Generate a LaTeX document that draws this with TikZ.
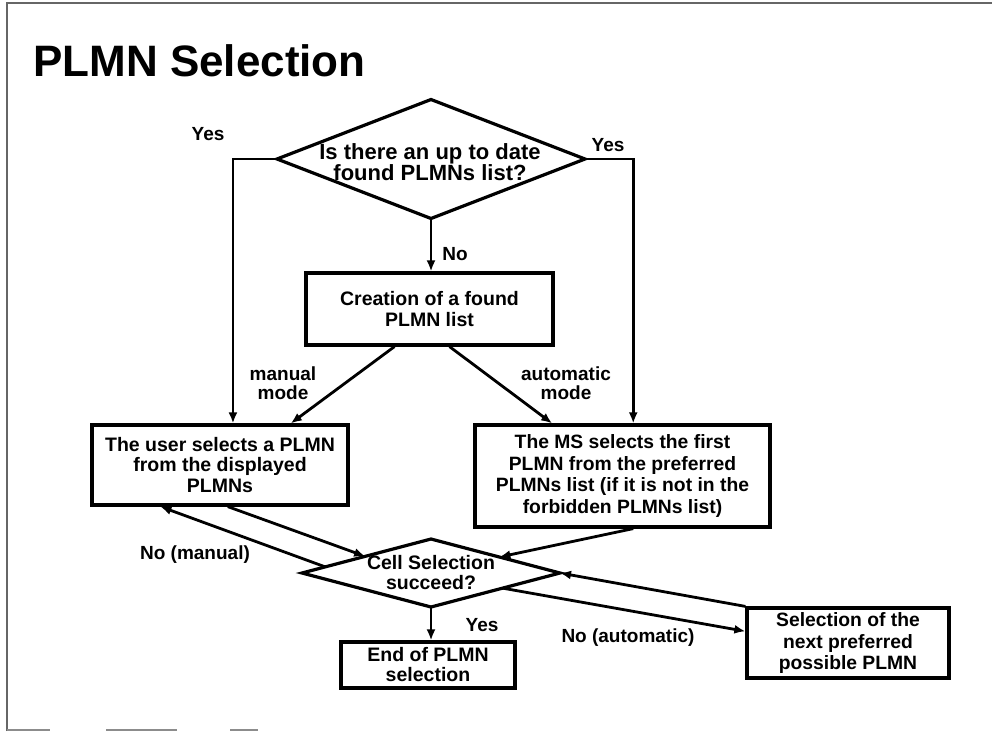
\documentclass[tikz,border=0pt]{standalone}
\usepackage{fontspec}
\setmainfont{Liberation Sans}
\usetikzlibrary{arrows.meta,shapes.geometric,calc}

\begin{document}
\begin{tikzpicture}[x=1pt,y=-1pt,
  box/.style={draw, line width=3.2pt, align=center, inner sep=0pt,
    font=\bfseries\fontsize{19.5}{20.5}\selectfont},
  decision/.style={draw, shape=diamond, line width=3.2pt, inner sep=0pt, outer sep=0pt},
  qtext/.style={align=center, inner sep=0pt, font=\bfseries\fontsize{19.5}{20}\selectfont},
  lbl/.style={align=center, inner sep=0pt, font=\bfseries\fontsize{19}{19.5}\selectfont},
  flow/.style={line width=2.8pt, -{Latex[length=11pt,width=9pt]}},
  frame/.style={draw=black!60, line width=1.8pt}
]
\useasboundingbox (0,0) rectangle (992,731);
\fill[white] (0,0) rectangle (992,731);

% page frame
\draw[frame] (7,731) -- (7,3) -- (992,3);
\draw[frame, draw=black!45, line width=1.5pt] (7,730) -- (50,730) (106,730) -- (177,730) (230,730) -- (258,730);

% title
\node[anchor=base west, inner sep=0pt, font=\bfseries\fontsize{44}{48}\selectfont] (title) at (33,76) {PLMN Selection};

% decisions
\node[decision, minimum width=308pt, minimum height=119pt] (q1) at (431,159) {};
\node[qtext, font=\bfseries\fontsize{22}{20}\selectfont] (q1t) at (430,162) {Is there an up to date\\found PLMNs list?};

\node[decision, minimum width=258pt, minimum height=68pt] (cell) at (431,573) {};
\node[qtext] (cellt) at (431,573) {Cell Selection\\succeed?};

% process boxes
\node[box, minimum width=247pt, minimum height=72pt] (found) at (429.5,309) {Creation of a found\\PLMN list};
\node[box, minimum width=256pt, minimum height=80pt] (user) at (220,465) {The user selects a PLMN\\from the displayed\\PLMNs};
\node[box, minimum width=295pt, minimum height=102pt, font=\bfseries\fontsize{19.3}{21.5}\selectfont] (ms) at (622.5,476) {The MS selects the first\\PLMN from the preferred\\PLMNs list (if it is not in the\\forbidden PLMNs list)};
\node[box, minimum width=174pt, minimum height=46pt, font=\bfseries\fontsize{19.5}{20}\selectfont] (endbox) at (428,665) {End of PLMN\\selection};
\node[box, minimum width=202pt, minimum height=70pt, font=\bfseries\fontsize{19.3}{21.5}\selectfont] (next) at (848,643) {Selection of the\\next preferred\\possible PLMN};

% connectors
\draw[flow] (q1.south) -- (q1.south |- found.north);
\draw[flow] (q1.west) -| ($(user.north west)!0.55!(user.north east)$);
\draw[flow] (q1.east) -| ($(ms.north west)!0.536!(ms.north east)$);
\draw[flow] ($(found.south west)!0.36!(found.south east)$) -- ($(user.north west)!0.773!(user.north east)$);
\draw[flow] ($(found.south west)!0.58!(found.south east)$) -- ($(ms.north west)!0.264!(ms.north east)$);
\draw[flow] ($(user.south west)!0.53!(user.south east)$) -- ($(cell.west)!0.49!(cell.north)$);
\draw[flow] ($(cell.west)!0.18!(cell.north)$) -- ($(user.south west)!0.27!(user.south east)$);
\draw[flow] ($(ms.south west)!0.536!(ms.south east)$) -- ($(cell.north)!0.53!(cell.east)$);
\draw[flow] ($(cell.east)!0.445!(cell.south)$) -- ($(next.north west)!0.34!(next.south west)$);
\draw[flow] (next.north west) -- (cell.east);
\draw[flow] (cell.south) -- (cell.south |- endbox.north);

% branch labels
\node[lbl] (yesl) at (208,134) {Yes};
\node[lbl] (yesr) at (608,145) {Yes};
\node[lbl] (no1) at (455,254) {No};
\node[lbl] (manual) at (283,383) {manual\\mode};
\node[lbl] (auto) at (566,383) {automatic\\mode};
\node[lbl] (nomanual) at (195,555) {No (manual)};
\node[lbl] (yesb) at (482,625) {Yes};
\node[lbl] (noauto) at (628,638) {No (automatic)};
\end{tikzpicture}
\end{document}
